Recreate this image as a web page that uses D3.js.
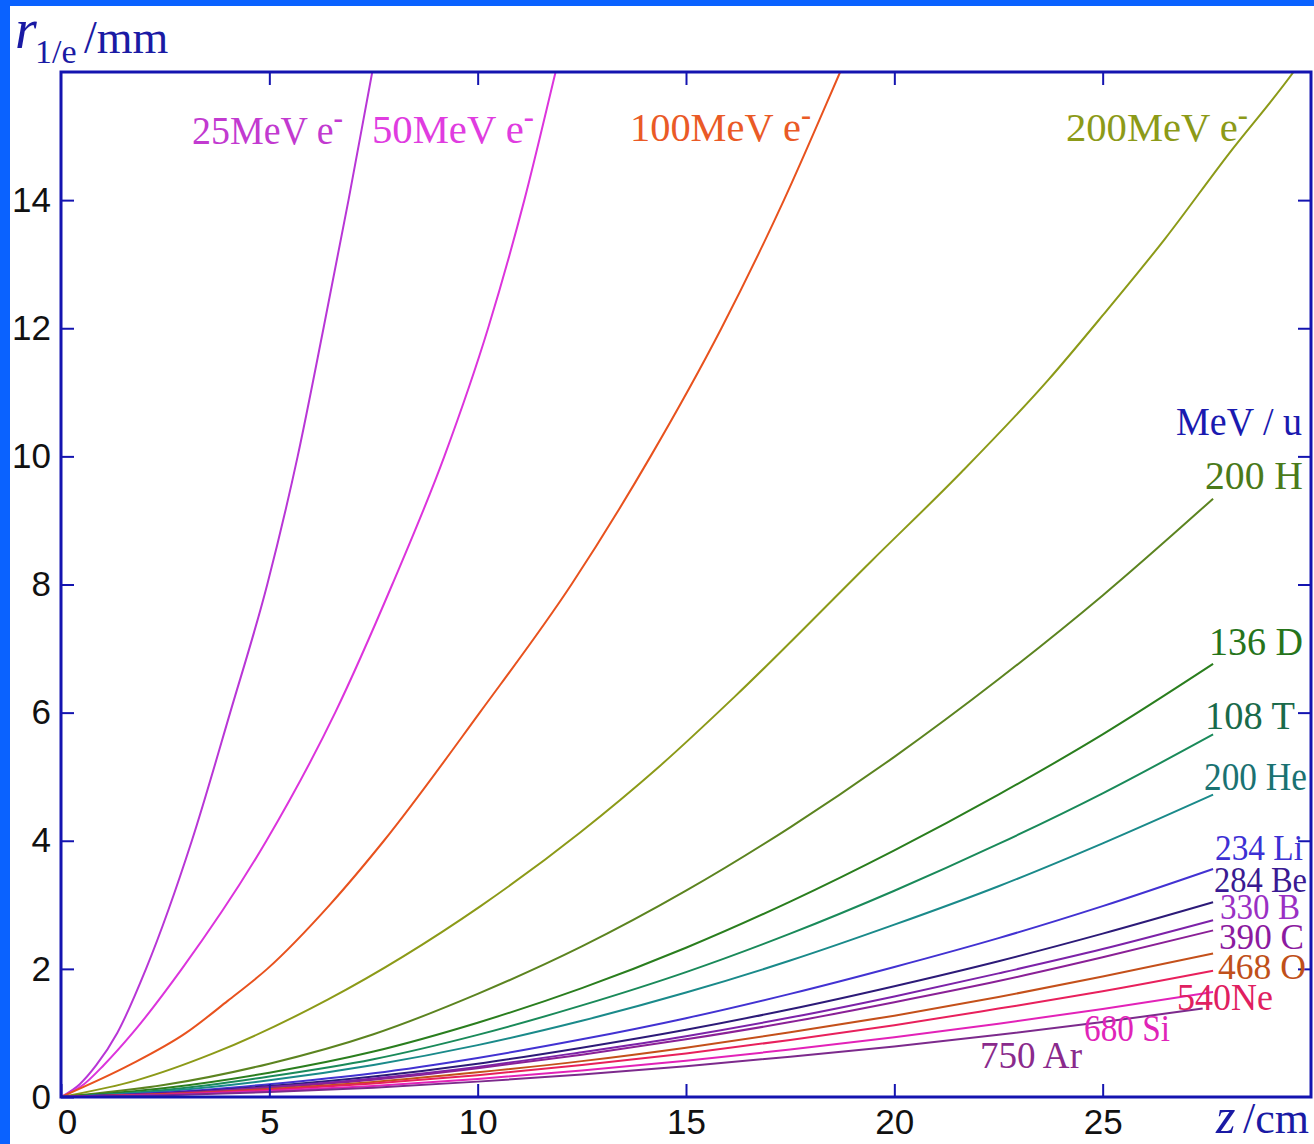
<!DOCTYPE html>
<html><head><meta charset="utf-8">
<script src="https://cdn.jsdelivr.net/npm/d3@7"></script>
<style>body{margin:0;background:#fff;} svg{display:block}</style>
</head><body>
<svg id="c" width="1314" height="1144"></svg>
<script>
// ---- data ----
const zTicks = [0, 5, 10, 15, 20, 25];
const rTicks = [0, 2, 4, 6, 8, 10, 12, 14];

// electron beams (z in cm, r in mm)
const e25Z  = [0, 0.45, 0.85, 1.35, 2.04, 3.14, 4.06, 4.95, 5.68, 6.30, 6.90, 7.47, 7.6];
const e25R  = [0, 0.2, 0.5, 1, 2, 4, 6, 8, 10, 12, 14, 16, 16.45];
const e50Z  = [0, 0.55, 1.03, 1.72, 2.9, 4.93, 6.58, 7.95, 9.2, 10.25, 11.12, 11.87, 12.0];
const e50R  = [0, 0.2, 0.5, 1, 2, 4, 6, 8, 10, 12, 14, 16, 16.35];
const e100Z = [0, 1.65, 3.0, 4.0, 4.95, 6.45, 7.75, 10.05, 12.25, 14.15, 15.85, 17.35, 18.7, 18.9];
const e100R = [0, 0.5, 1, 1.5, 2, 3, 4, 6, 8, 10, 12, 14, 16, 16.3];
const e200Z = [0, 1.81, 3.65, 6.40, 10.07, 12.46, 14.36, 16.17, 19.44, 21.62, 23.69, 25.0, 26.5, 28.0, 29.58, 29.8];
const e200R = [0, 0.26, 0.68, 1.52, 2.98, 4.13, 5.16, 6.25, 8.36, 9.76, 11.19, 12.2, 13.4, 14.7, 16, 16.2];

// ion beams, common z grid
const zIon = [0, 2.5, 5, 7.5, 10, 12.5, 15, 17.5, 20, 22.5, 25, 27.65];
const hR  = [0, 0.19, 0.52, 0.98, 1.61, 2.35, 3.22, 4.21, 5.31, 6.52, 7.83, 9.34];
const dR  = [0, 0.14, 0.38, 0.71, 1.16, 1.70, 2.33, 3.05, 3.85, 4.72, 5.66, 6.76];
const tR  = [0, 0.11, 0.32, 0.59, 0.97, 1.43, 1.95, 2.55, 3.22, 3.95, 4.74, 5.66];
const heR = [0, 0.09, 0.26, 0.50, 0.81, 1.19, 1.63, 2.13, 2.69, 3.29, 3.96, 4.72];
const liR = [0, 0.07, 0.20, 0.37, 0.61, 0.90, 1.23, 1.61, 2.03, 2.48, 2.98, 3.56];
const beR = [0, 0.06, 0.17, 0.32, 0.52, 0.77, 1.05, 1.37, 1.73, 2.12, 2.55, 3.04];
const bR  = [0, 0.055, 0.155, 0.29, 0.47, 0.70, 0.95, 1.24, 1.57, 1.93, 2.31, 2.76];
const cR  = [0, 0.05, 0.146, 0.27, 0.45, 0.66, 0.90, 1.17, 1.48, 1.81, 2.18, 2.60];
const oR  = [0, 0.045, 0.125, 0.235, 0.385, 0.56, 0.77, 1.01, 1.27, 1.56, 1.88, 2.24];
const neR = [0, 0.04, 0.11, 0.21, 0.34, 0.50, 0.68, 0.89, 1.12, 1.38, 1.65, 1.97];
const siR = [0, 0.033, 0.092, 0.172, 0.282, 0.413, 0.566, 0.74, 0.933, 1.145, 1.374, 1.64];
const arZ = [0, 2.5, 5, 7.5, 10, 12.5, 15, 17.5, 20, 22.5, 25, 27.4];
const arR = [0, 0.028, 0.078, 0.146, 0.24, 0.35, 0.48, 0.63, 0.79, 0.97, 1.17, 1.38];

const electronLabels = ["25MeV e", "50MeV e", "100MeV e", "200MeV e"];
const ionLabels = ["200 H", "136 D", "108 T", "200 He", "234 Li", "284 Be", "330 B", "390 C", "468 O", "540Ne", "680 Si", "750 Ar"];

// ---- layout & style ----
const W = 1314, H = 1144;
const AX = "#1414b0";
const SERIF = "'Liberation Serif','Times New Roman',serif";
const SANS = "'Liberation Sans',Arial,Helvetica,sans-serif";
const svg = d3.select("#c");
const x = d3.scaleLinear().domain([0, 30]).range([61, 1311]);
const y = d3.scaleLinear().domain([0, 16]).range([1097, 72]);

svg.append("rect").attr("width", W).attr("height", H).attr("fill", "#0a62ff");
svg.append("rect").attr("x", 10).attr("y", 6).attr("width", W - 10).attr("height", H - 6).attr("fill", "#fff");

svg.append("defs").append("clipPath").attr("id", "clip")
  .append("rect").attr("x", x(0)).attr("y", y(16)).attr("width", x(30) - x(0)).attr("height", y(0) - y(16));

const series = [
  {z: e25Z, r: e25R, color: "#b836d6"},
  {z: e50Z, r: e50R, color: "#dc34dc"},
  {z: e100Z, r: e100R, color: "#e8521e"},
  {z: e200Z, r: e200R, color: "#8c9a18"},
  {z: zIon, r: hR, color: "#5c8420"},
  {z: zIon, r: dR, color: "#2a7e1e"},
  {z: zIon, r: tR, color: "#1a8a5a"},
  {z: zIon, r: heR, color: "#1a8a8a"},
  {z: zIon, r: liR, color: "#4232d2"},
  {z: zIon, r: beR, color: "#2c1a78"},
  {z: zIon, r: bR, color: "#7c22a8"},
  {z: zIon, r: cR, color: "#8a2096"},
  {z: zIon, r: oR, color: "#c4501a"},
  {z: zIon, r: neR, color: "#e8205c"},
  {z: zIon, r: siR, color: "#e222b8"},
  {z: arZ, r: arR, color: "#7c2a8c"}
];

const line = d3.line().x(d => x(d[0])).y(d => y(d[1])).curve(d3.curveMonotoneX);
const gLines = svg.append("g").attr("clip-path", "url(#clip)");
series.forEach(s => {
  gLines.append("path").datum(d3.zip(s.z, s.r)).attr("d", line)
    .attr("fill", "none").attr("stroke", s.color).attr("stroke-width", 2);
});

// axes
function styleAxis(g) {
  g.select(".domain").remove();
  g.selectAll(".tick line").attr("stroke", AX).attr("stroke-width", 2);
  g.selectAll(".tick text").attr("fill", "#111").style("font-family", SANS).style("font-size", "35px");
}
const TS = -13;
const gb = svg.append("g").attr("transform", `translate(0,${y(0)})`)
  .call(d3.axisBottom(x).tickValues(zTicks).tickSizeInner(TS).tickSizeOuter(0).tickPadding(12).tickFormat(d3.format("d")));
styleAxis(gb);
gb.selectAll(".tick text").filter(d => d === 0).attr("dx", 6);
const gl = svg.append("g").attr("transform", `translate(${x(0)},0)`)
  .call(d3.axisLeft(y).tickValues(rTicks).tickSizeInner(TS).tickSizeOuter(0).tickPadding(10).tickFormat(d3.format("d")));
styleAxis(gl);
const gt = svg.append("g").attr("transform", `translate(0,${y(16)})`)
  .call(d3.axisTop(x).tickValues(zTicks.slice(1)).tickSizeInner(TS).tickSizeOuter(0).tickFormat(""));
styleAxis(gt);
const gr = svg.append("g").attr("transform", `translate(${x(30)},0)`)
  .call(d3.axisRight(y).tickValues(rTicks.slice(1)).tickSizeInner(TS).tickSizeOuter(0).tickFormat(""));
styleAxis(gr);

svg.append("rect").attr("x", x(0)).attr("y", y(16)).attr("width", x(30) - x(0)).attr("height", y(0) - y(16))
  .attr("fill", "none").attr("stroke", AX).attr("stroke-width", 3);

// axis titles
const t1 = svg.append("text").attr("fill", "#1a1aa4").style("font-family", SERIF);
t1.append("tspan").attr("x", 15).attr("y", 48).style("font-style", "italic").style("font-size", "56px").text("r");
t1.append("tspan").attr("x", 35).attr("y", 63).style("font-size", "34px").text("1/e");
t1.append("tspan").attr("x", 84).attr("y", 53).style("font-size", "46px").text("/mm");

const t2 = svg.append("text").attr("fill", "#1a1aa4").style("font-family", SERIF);
t2.append("tspan").attr("x", 1216).attr("y", 1133).style("font-style", "italic").style("font-size", "50px").text("z");
t2.append("tspan").attr("x", 1243).attr("y", 1133).style("font-size", "44px").text("/cm");

// electron labels (position in data units, width in px)
const eLab = [
  {z: 3.144, r: 14.876, w: 151, color: "#c23ad0"},
  {z: 7.464, r: 14.892, w: 162, color: "#e03ce0"},
  {z: 13.656, r: 14.923, w: 181, color: "#ea5a26"},
  {z: 24.12, r: 14.923, w: 182, color: "#8c9a18"}
];
electronLabels.forEach((txt, i) => {
  const L = eLab[i];
  const t = svg.append("text").attr("x", x(L.z)).attr("y", y(L.r)).attr("fill", L.color)
    .style("font-family", SERIF).style("font-size", "40px")
    .attr("textLength", L.w).attr("lengthAdjust", "spacingAndGlyphs");
  t.append("tspan").text(txt);
  t.append("tspan").attr("dy", -16).style("font-size", "30px").style("font-weight", "bold").text("-");
});

svg.append("text").attr("x", x(26.76)).attr("y", y(10.334)).attr("fill", "#1a1ab0")
  .style("font-family", SERIF).style("font-size", "41px")
  .attr("textLength", 126).attr("lengthAdjust", "spacingAndGlyphs").text("MeV / u");

const iLab = [
  {z: 27.456, r: 9.491, w: 98, fs: 41, color: "#4a7a1a"},
  {z: 27.552, r: 6.899, w: 94, fs: 41, color: "#26741a"},
  {z: 27.456, r: 5.744, w: 90, fs: 41, color: "#1a6a4a"},
  {z: 27.432, r: 4.792, w: 103, fs: 40, color: "#1a7272"},
  {z: 27.696, r: 3.700, w: 88, fs: 36, color: "#3c30d4"},
  {z: 27.672, r: 3.200, w: 93, fs: 36, color: "#3a1a92"},
  {z: 27.816, r: 2.779, w: 80, fs: 36, color: "#9a30c4"},
  {z: 27.792, r: 2.310, w: 85, fs: 36, color: "#8c1aa0"},
  {z: 27.768, r: 1.842, w: 88, fs: 36, color: "#c0501a"},
  {z: 26.784, r: 1.358, w: 96, fs: 37, color: "#e02060"},
  {z: 24.552, r: 0.874, w: 86, fs: 37, color: "#e024b8"},
  {z: 22.056, r: 0.453, w: 102, fs: 37, color: "#8a2a8c"}
];
ionLabels.forEach((txt, i) => {
  const L = iLab[i];
  svg.append("text").attr("x", x(L.z)).attr("y", y(L.r)).attr("fill", L.color)
    .style("font-family", SERIF).style("font-size", L.fs + "px")
    .attr("textLength", L.w).attr("lengthAdjust", "spacingAndGlyphs").text(txt);
});
</script>
</body></html>
